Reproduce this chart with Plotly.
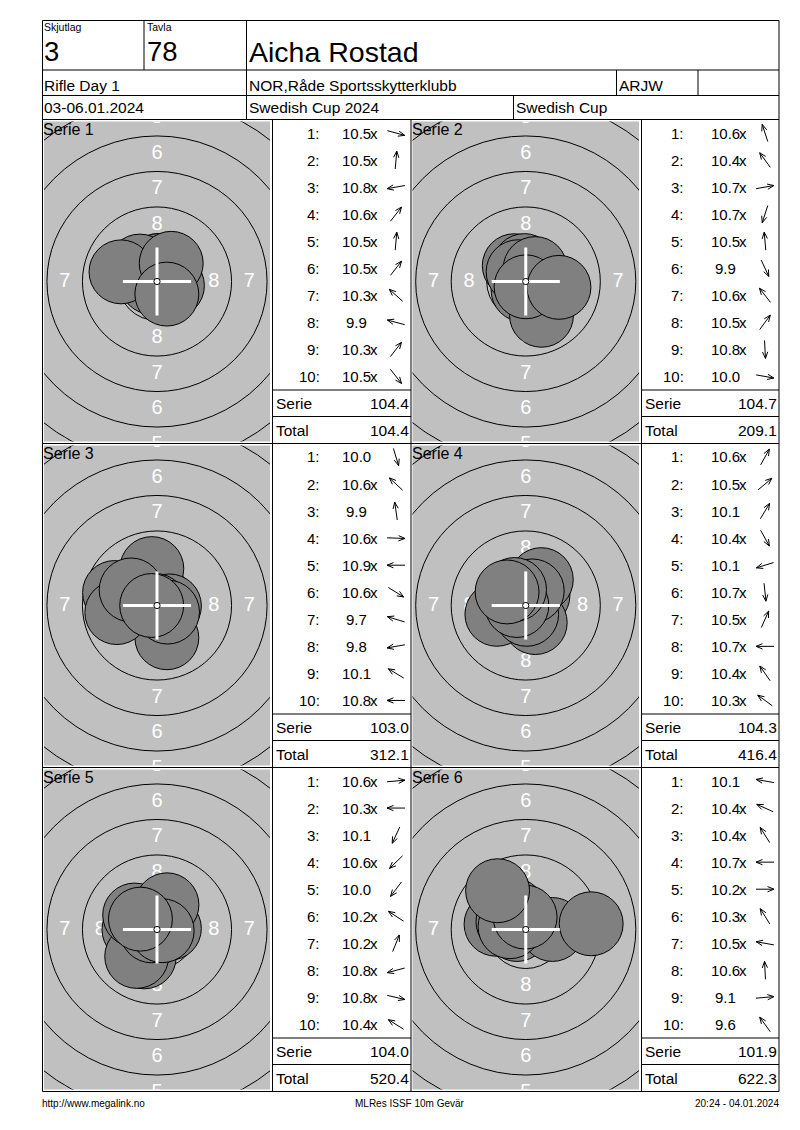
import math
import plotly.graph_objects as go

W, H = 800, 1130
OFF = 8.0  # page margin of the browser body
FONT = "Liberation Sans, Arial, sans-serif"

# ---------------- header / footer texts ----------------
SQUAD_LABEL, SQUAD = "Skjutlag", "3"
TARGET_LABEL, TARGET = "Tavla", "78"
NAME = "Aicha Rostad"
EVENT = "Rifle Day 1"
CLUB = "NOR,Råde Sportsskytterklubb"
CLASS = "ARJW"
DATES = "03-06.01.2024"
COMPETITION = "Swedish Cup 2024"
CUP = "Swedish Cup"
FOOT_LEFT = "http://www.megalink.no"
FOOT_MID = "MLRes ISSF 10m Gevär"
FOOT_RIGHT = "20:24 - 04.01.2024"

# ---------------- shot data ----------------
SERIES_TITLES = ["Serie 1", "Serie 2", "Serie 3", "Serie 4", "Serie 5", "Serie 6"]
SHOTS_S1 = ["10.5x", "10.5x", "10.8x", "10.6x", "10.5x", "10.5x", "10.3x", "9.9", "10.3x", "10.5x"]
DIR_S1 = [-15, 85, 190, 52, 85, 52, 138, 165, 52, -52]
SHOTS_S2 = ["10.6x", "10.4x", "10.7x", "10.7x", "10.5x", "9.9", "10.6x", "10.5x", "10.8x", "10.0"]
DIR_S2 = [108, 126, 10, 252, 95, -65, 128, 54, 273, -10]
SHOTS_S3 = ["10.0", "10.6x", "9.9", "10.6x", "10.9x", "10.6x", "9.7", "9.8", "10.1", "10.8x"]
DIR_S3 = [-73, 137, 98, -2, 180, -32, 163, 190, 149, 180]
SHOTS_S4 = ["10.6x", "10.5x", "10.1", "10.4x", "10.1", "10.7x", "10.5x", "10.7x", "10.4x", "10.3x"]
DIR_S4 = [61, 40, 59, -61, 197, -84, 66, 180, 125, 144]
SHOTS_S5 = ["10.6x", "10.3x", "10.1", "10.6x", "10.0", "10.2x", "10.2x", "10.8x", "10.8x", "10.4x"]
DIR_S5 = [5, 180, 245, 224, 233, 147, 68, 195, -13, 148]
SHOTS_S6 = ["10.1", "10.4x", "10.4x", "10.7x", "10.2x", "10.3x", "10.5x", "10.6x", "9.1", "9.6"]
DIR_S6 = [170, 156, 122, 180, 0, 122, 170, 93, 5, 126]
SERIE_SCORES = ["104.4", "104.7", "103.0", "104.3", "104.0", "101.9"]
RUNNING_TOTALS = ["104.4", "209.1", "312.1", "416.4", "520.4", "622.3"]
RING_NUMBERS = [1, 2, 3, 4, 5, 6, 7, 8]
SERIE_LABEL, TOTAL_LABEL = "Serie", "Total"

SHOTS = [SHOTS_S1, SHOTS_S2, SHOTS_S3, SHOTS_S4, SHOTS_S5, SHOTS_S6]
DIRS = [DIR_S1, DIR_S2, DIR_S3, DIR_S4, DIR_S5, DIR_S6]

# ---------------- geometry (page pixels) ----------------
COL_X = [42.5, 272.5, 411.0, 641.5, 779.0]
PANEL_TOP = [119.5, 443.5, 767.5]
PANEL_H = 324.0
PX_PER_MM = 14.2
PELLET_R = 2.25  # mm
GREY = "#c0c0c0"
HOLE = "#808080"

FW, FH = W - OFF, H - OFF


def fx(x):
    return (x - OFF) / FW


def fy(y):
    return 1 - (y - OFF) / FH


shapes = []
annotations = []


def line(x0, y0, x1, y1, color="black", width=1):
    shapes.append(dict(type="line", xref="paper", yref="paper",
                       x0=fx(x0), y0=fy(y0), x1=fx(x1), y1=fy(y1),
                       line=dict(color=color, width=width), layer="above"))


def txt(x, y, s, size, anchor="left", color="black"):
    annotations.append(dict(x=fx(x), y=fy(y), xref="paper", yref="paper", text=s,
                            showarrow=False, xanchor=anchor, yanchor="middle",
                            borderpad=0, borderwidth=0,
                            font=dict(size=size, family=FONT, color=color)))


fig = go.Figure()

# ---------------- frame lines ----------------
TOP, BOT = 20.5, PANEL_TOP[2] + PANEL_H
LEFT, RIGHT = COL_X[0], COL_X[-1]
line(LEFT, TOP, RIGHT, TOP)
line(LEFT, BOT, RIGHT, BOT)
line(LEFT, TOP, LEFT, BOT)
line(RIGHT, TOP, RIGHT, BOT)
for yy in [70.0, 95.5, PANEL_TOP[0], PANEL_TOP[1], PANEL_TOP[2]]:
    line(LEFT, yy, RIGHT, yy)
line(144.0, TOP, 144.0, 70.0)
line(246.5, TOP, 246.5, PANEL_TOP[0])
line(616.5, 70.0, 616.5, 95.5)
line(698.0, 70.0, 698.0, 95.5)
line(513.5, 95.5, 513.5, PANEL_TOP[0])
for xx in COL_X[1:4]:
    line(xx, PANEL_TOP[0], xx, BOT)

# ---------------- header texts ----------------
txt(44, 27.5, SQUAD_LABEL, 10.5)
txt(44, 52, SQUAD, 27.5)
txt(147, 27.5, TARGET_LABEL, 10.5)
txt(147, 52, TARGET, 27.5)
txt(248.5, 52, NAME, 28.5)
txt(44, 85.5, EVENT, 15.5)
txt(248.5, 85.5, CLUB, 15.5)
txt(618.5, 85.5, CLASS, 15.5)
txt(44, 108, DATES, 15.5)
txt(248.5, 108, COMPETITION, 15.5)
txt(515.5, 108, CUP, 15.5)
txt(42, 1103, FOOT_LEFT, 10)
txt(410, 1103, FOOT_MID, 10, anchor="center")
txt(779, 1103, FOOT_RIGHT, 10, anchor="right")

layout_axes = {}

for i in range(6):
    row, col = i // 2, i % 2
    top = PANEL_TOP[row]
    tx0 = COL_X[2 * col] + 1.5
    tx1 = COL_X[2 * col + 1] - 2.5
    ty0 = top + 2.0
    ty1 = top + 322.0
    k = "" if i == 0 else str(i + 1)
    xr, yr = "x" + k, "y" + k
    hx = (tx1 - tx0) / 2 / PX_PER_MM
    hy = (ty1 - ty0) / 2 / PX_PER_MM
    layout_axes["xaxis" + k] = dict(domain=[fx(tx0), fx(tx1)], range=[-hx, hx], visible=False,
                                    fixedrange=True, anchor=yr)
    layout_axes["yaxis" + k] = dict(domain=[fy(ty1), fy(ty0)], range=[-hy, hy], visible=False,
                                    fixedrange=True, anchor=xr)

    # rings 1..9
    for n in range(1, 10):
        r = 0.25 + 2.5 * (10 - n)
        shapes.append(dict(type="circle", xref=xr, yref=yr, x0=-r, y0=-r, x1=r, y1=r,
                           line=dict(color="black", width=1), layer="below"))
    # ring numbers (only those that can reach the visible window)
    lx, ly, lt = [], [], []
    for n in RING_NUMBERS:
        rl = 2.5 * (10 - n) - 1.0
        for (a, b) in [(0, rl), (0, -rl), (rl, 0), (-rl, 0)]:
            if abs(a) < hx + 0.3 and abs(b) < hy + 0.55:
                lx.append(a)
                ly.append(b)
                lt.append(str(n))
    fig.add_trace(go.Scatter(x=lx, y=ly, text=lt, mode="text", xaxis=xr, yaxis=yr,
                             textfont=dict(color="white", size=20, family=FONT),
                             hoverinfo="skip", showlegend=False, cliponaxis=True))
    # shot holes
    for s, ang in zip(SHOTS[i], DIRS[i]):
        v = float(s.rstrip("x"))
        d = (10.95 - v) * 2.5
        cx = d * math.cos(math.radians(ang))
        cy = d * math.sin(math.radians(ang))
        shapes.append(dict(type="circle", xref=xr, yref=yr,
                           x0=cx - PELLET_R, y0=cy - PELLET_R, x1=cx + PELLET_R, y1=cy + PELLET_R,
                           fillcolor=HOLE, line=dict(color="black", width=1), layer="above"))
    # white cross and centre dot
    shapes.append(dict(type="line", xref=xr, yref=yr, x0=-2.4, y0=0, x1=2.4, y1=0,
                       line=dict(color="white", width=3), layer="above"))
    shapes.append(dict(type="line", xref=xr, yref=yr, x0=0, y0=-2.4, x1=0, y1=2.4,
                       line=dict(color="white", width=3), layer="above"))
    shapes.append(dict(type="circle", xref=xr, yref=yr, x0=-0.22, y0=-0.22, x1=0.22, y1=0.22,
                       fillcolor="white", line=dict(color="black", width=1), layer="above"))
    txt(COL_X[2 * col] + 0.5, top + 9.5, SERIES_TITLES[i], 16)

    # ---------------- table ----------------
    tl = COL_X[2 * col + 1]
    tr = COL_X[2 * col + 2]
    idx_r = tl + (47.5 if col == 0 else 42.5)
    for j, (s, ang) in enumerate(zip(SHOTS[i], DIRS[i])):
        y = top + 13.5 + 27.05 * j
        txt(idx_r, y, f"{j + 1}:", 15, anchor="right")
        txt(tl + 83.5, y, s.rstrip("x"), 15, anchor="center")
        if s.endswith("x"):
            txt(tl + 97.5, y, "x", 15)
        # direction arrow
        acx, acy = tl + 123.5, y
        ca, sa = math.cos(math.radians(ang)), -math.sin(math.radians(ang))
        L = 9.0
        tailx, taily = acx - L * ca, acy - L * sa
        tipx, tipy = acx + L * ca, acy + L * sa
        pts = []
        for da in (22, -22):
            b = math.radians(ang + da)
            pts.append((tipx - 7 * math.cos(b), tipy + 7 * math.sin(b)))
        path = (f"M {fx(tailx)} {fy(taily)} L {fx(tipx)} {fy(tipy)} "
                f"M {fx(pts[0][0])} {fy(pts[0][1])} L {fx(tipx)} {fy(tipy)} L {fx(pts[1][0])} {fy(pts[1][1])}")
        shapes.append(dict(type="path", xref="paper", yref="paper", path=path,
                           line=dict(color="black", width=1), layer="above"))
    line(tl, top + 270.5, tr, top + 270.5)
    line(tl, top + 297.0, tr, top + 297.0)
    txt(tl + 3.5, top + 284.0, SERIE_LABEL, 15.5)
    txt(tr - 2.5, top + 284.0, SERIE_SCORES[i], 15.5, anchor="right")
    txt(tl + 3.5, top + 310.5, TOTAL_LABEL, 15.5)
    txt(tr - 2.5, top + 310.5, RUNNING_TOTALS[i], 15.5, anchor="right")

fig.update_layout(width=int(FW), height=int(FH), margin=dict(l=0, r=0, t=0, b=0),
                  paper_bgcolor="white", plot_bgcolor=GREY, showlegend=False,
                  shapes=shapes, annotations=annotations,
                  font=dict(family=FONT, color="black"), **layout_axes)
fig.write_html("out.html")
